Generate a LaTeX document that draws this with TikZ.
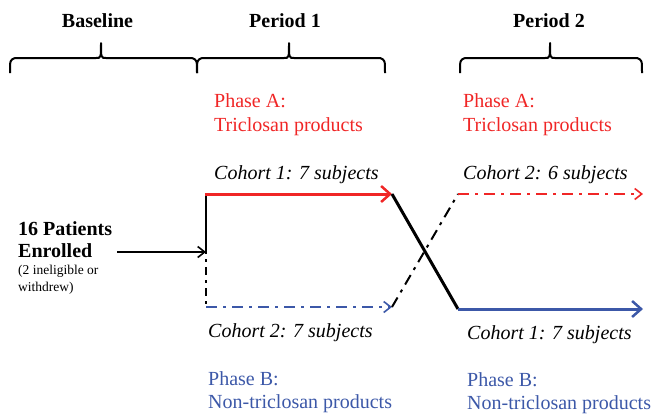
\documentclass[tikz,border=0pt]{standalone}
\usepackage{fontspec}
\setmainfont{Liberation Serif}
\usetikzlibrary{arrows.meta}
\definecolor{cred}{RGB}{240,38,38}
\definecolor{cblue}{RGB}{60,88,168}
\begin{document}
\begin{tikzpicture}[x=1pt,y=-1pt,
  title/.style={font=\bfseries\fontsize{20}{24}\selectfont, anchor=base, inner sep=0pt},
  lab/.style={font=\fontsize{20}{24}\selectfont, anchor=base west, inner sep=0pt},
  ital/.style={font=\itshape\fontsize{20}{24}\selectfont, anchor=base west, inner sep=0pt},
  boldlab/.style={font=\bfseries\fontsize{20}{24}\selectfont, anchor=base west, inner sep=0pt},
  smalllab/.style={font=\fontsize{13.5}{16}\selectfont, anchor=base west, inner sep=0pt},
  bracestyle/.style={line width=2pt, line join=round},
  dashdot/.style={line width=2pt, dash pattern=on 11pt off 6pt on 3pt off 6pt},
  bigtip/.style={-{Straight Barb[length=9pt,width=16pt,line width=2.5pt]}},
  smalltip/.style={-{Straight Barb[length=7pt,width=11pt,line width=1.6pt]}}
]
\useasboundingbox (0,0) rectangle (654,413);

% titles
\node[title] (tBase) at (97.5,27) {Baseline};
\node[title] (tP1) at (285,27) {Period 1};
\node[title] (tP2) at (549,27) {Period 2};

% braces
\draw[bracestyle] (10,73) .. controls (10,60) .. (15,58) -- (96,58) .. controls (101,58) .. (101,43)
  .. controls (101,58) .. (106,58) -- (192,58) .. controls (197,60) .. (197,73);
\draw[bracestyle] (197,73) .. controls (197,60) .. (202,58) -- (284,58) .. controls (289,58) .. (289,43)
  .. controls (289,58) .. (294,58) -- (380,58) .. controls (385,60) .. (385,73);
\draw[bracestyle] (460,73) .. controls (460,60) .. (465,58) -- (545,58) .. controls (550,58) .. (550,43)
  .. controls (550,58) .. (555,58) -- (637,58) .. controls (642,60) .. (642,73);

% phase labels
\node[lab, text=cred] (pa1) at (214,107) {Phase A:};
\node[lab, text=cred] (pa1b) at (214,131) {Triclosan products};
\node[lab, text=cred] (pa2) at (463,107) {Phase A:};
\node[lab, text=cred] (pa2b) at (463,131) {Triclosan products};

\node[ital] (c1a) at (214,179) {Cohort 1: 7 subjects};
\node[ital] (c2a) at (463,179) {Cohort 2: 6 subjects};
\node[ital] (c2b) at (208,337) {Cohort 2: 7 subjects};
\node[ital] (c1b) at (467,339) {Cohort 1: 7 subjects};

\node[lab, text=cblue] (pb1) at (208,385) {Phase B:};
\node[lab, text=cblue] (pb1b) at (208,408) {Non-triclosan products};
\node[lab, text=cblue] (pb2) at (467,386) {Phase B:};
\node[lab, text=cblue] (pb2b) at (467,409) {Non-triclosan products};

% enrolled
\node[boldlab] (en1) at (18,235) {16 Patients};
\node[boldlab] (en2) at (18,257) {Enrolled};
\node[smalllab] (en3) at (18,274) {(2 ineligible or};
\node[smalllab] (en4) at (18,291) {withdrew)};

% coordinates
\coordinate (split) at (206,252);
\coordinate (topL) at (206,194);
\coordinate (botL) at (206,307);
\coordinate (topM) at (392,194);
\coordinate (botM) at (392,307);
\coordinate (topR) at (458,194);
\coordinate (botR) at (458,309);
\coordinate (endTop) at (643,194);
\coordinate (endBot) at (643,309);
\coordinate (arrStart) at (117,252);

% connectors
\draw[line width=1.6pt, smalltip] (arrStart) -- (split);
\draw[line width=2.5pt] (split) -- (topL);
\draw[dashdot, dash pattern=on 8pt off 5pt on 3pt off 5pt] ([yshift=6pt]split) -- (botL);
\draw[line width=3pt, cred, bigtip] ([xshift=-1.2pt]topL) -- (topM);
\draw[dashdot, cblue, smalltip, line width=2.2pt] (botL) -- (botM);
\draw[line width=3pt] (topM) -- (botR);
\draw[dashdot] (botM) -- (topR);
\draw[dashdot, cred, smalltip, line width=2.2pt] (topR) -- (endTop);
\draw[line width=3pt, cblue, bigtip] (botR) -- (endBot);
\end{tikzpicture}
\end{document}
